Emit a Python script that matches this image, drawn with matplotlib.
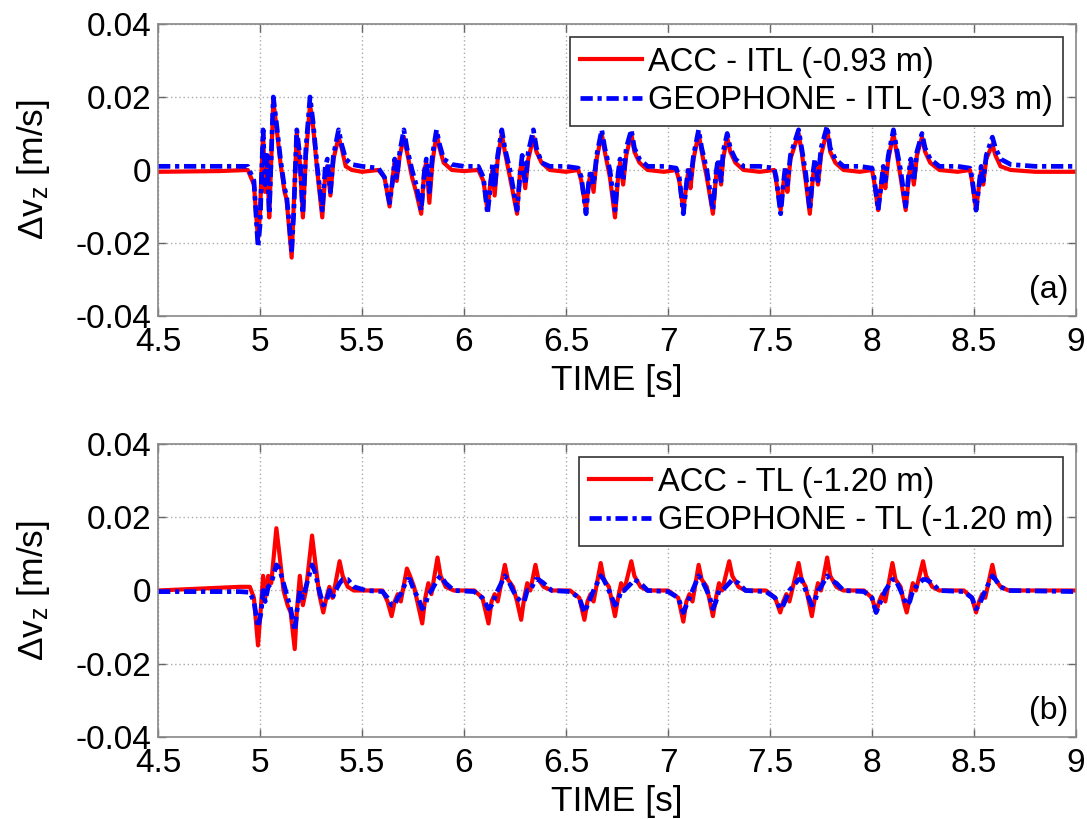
import matplotlib
matplotlib.use("Agg")
import matplotlib.pyplot as plt

plt.rcParams['font.family'] = ['Liberation Sans', 'DejaVu Sans']
plt.rcParams['mathtext.fontset'] = 'custom'
plt.rcParams['mathtext.rm'] = 'Liberation Sans'
plt.rcParams['mathtext.it'] = 'Liberation Sans'

# ---- panel (a): ITL, -0.93 m ----
t_a = [4.50, 4.80, 4.94, 4.97, 4.99, 5.00, 5.005, 5.015, 5.025, 5.035, 5.045, 5.065, 5.08,
       5.10, 5.12, 5.13, 5.155, 5.165, 5.18, 5.195, 5.21, 5.225, 5.245, 5.26, 5.28, 5.305,
       5.32, 5.33, 5.345, 5.36, 5.385, 5.40, 5.42, 5.45, 5.50, 5.58,
       5.61, 5.635, 5.65, 5.66, 5.67, 5.685, 5.705, 5.72, 5.745, 5.765, 5.79, 5.805, 5.815,
       5.83, 5.845, 5.865, 5.88, 5.90, 5.94, 6.00, 6.07,
       6.095, 6.115, 6.13, 6.14, 6.15, 6.165, 6.185, 6.20, 6.225, 6.26, 6.275, 6.285, 6.30,
       6.315, 6.34, 6.355, 6.38, 6.42, 6.50, 6.56,
       6.575, 6.598, 6.61, 6.62, 6.635, 6.65, 6.675, 6.69, 6.715, 6.74, 6.755, 6.765, 6.78,
       6.795, 6.82, 6.835, 6.86, 6.90, 6.98, 7.04,
       7.055, 7.075, 7.09, 7.10, 7.11, 7.125, 7.15, 7.165, 7.19, 7.22, 7.235, 7.245, 7.26,
       7.27, 7.29, 7.305, 7.33, 7.37, 7.45, 7.52,
       7.53, 7.552, 7.565, 7.575, 7.585, 7.60, 7.64, 7.655, 7.675, 7.695, 7.71, 7.72, 7.735,
       7.75, 7.78, 7.795, 7.82, 7.86, 7.94, 8.00,
       8.01, 8.03, 8.045, 8.055, 8.065, 8.08, 8.105, 8.12, 8.14, 8.165, 8.18, 8.19, 8.205,
       8.22, 8.245, 8.26, 8.285, 8.33, 8.42, 8.48,
       8.49, 8.51, 8.525, 8.535, 8.545, 8.56, 8.59, 8.605, 8.63, 8.68, 8.80, 9.00]
acc_a = [-0.0005, -0.0003, 0.0, -0.004, -0.019, -0.012, -0.004, 0.010, -0.006, 0.003, -0.013, 0.019, 0.012,
         0.002, -0.006, -0.008, -0.024, -0.010, 0.010, 0.002, -0.013, 0.004, 0.018, 0.012, 0.0, -0.013,
         -0.001, 0.001, -0.007, 0.003, 0.009, 0.006, 0.001, 0.0, -0.0005, 0.0,
         -0.002, -0.010, -0.002, 0.002, -0.003, 0.004, 0.009, 0.005, -0.002, -0.006, -0.012, 0.0, 0.002,
         -0.009, 0.002, 0.010, 0.006, 0.002, 0.0, -0.0003, 0.0,
         -0.003, -0.011, -0.003, 0.0, -0.007, 0.003, 0.010, 0.005, -0.002, -0.012, 0.0, 0.002, -0.005,
         0.003, 0.009, 0.005, 0.002, 0.0, -0.0005, 0.0,
         -0.003, -0.011, -0.004, -0.001, -0.006, 0.003, 0.010, 0.005, -0.002, -0.013, -0.002, 0.002, -0.004,
         0.004, 0.010, 0.005, 0.002, 0.0, -0.0005, 0.0,
         -0.003, -0.011, -0.004, 0.0, -0.005, 0.003, 0.010, 0.005, -0.002, -0.012, -0.002, 0.002, -0.004,
         0.003, 0.009, 0.005, 0.002, 0.0, -0.0005, 0.0,
         -0.003, -0.011, -0.004, 0.0, -0.006, 0.003, 0.010, 0.005, -0.003, -0.012, -0.002, 0.002, -0.004,
         0.004, 0.011, 0.005, 0.002, 0.0, -0.0005, 0.0,
         -0.003, -0.011, -0.004, 0.0, -0.005, 0.003, 0.010, 0.005, -0.002, -0.011, -0.002, 0.002, -0.004,
         0.004, 0.009, 0.005, 0.002, 0.0, -0.0005, 0.0,
         -0.003, -0.011, -0.004, 0.0, -0.004, 0.003, 0.007, 0.004, 0.001, 0.0, -0.0005, -0.0005]
geo_a = [0.001, 0.001, 0.001, -0.003, -0.021, -0.015, -0.006, 0.011, -0.004, 0.004, -0.012, 0.020, 0.013,
         0.003, -0.005, -0.007, -0.022, -0.012, 0.011, 0.004, -0.012, 0.006, 0.020, 0.013, 0.001, -0.011,
         0.001, 0.003, -0.006, 0.004, 0.011, 0.007, 0.003, 0.0015, 0.001, 0.0005,
         -0.002, -0.009, -0.003, 0.003, -0.002, 0.005, 0.011, 0.006, 0.0, -0.004, -0.011, -0.001, 0.003,
         -0.006, 0.004, 0.011, 0.007, 0.003, 0.0015, 0.001, 0.001,
         -0.002, -0.012, -0.004, 0.002, -0.005, 0.004, 0.011, 0.006, 0.0, -0.011, -0.001, 0.004, -0.004,
         0.005, 0.011, 0.006, 0.002, 0.001, 0.001, 0.0005,
         -0.002, -0.012, -0.004, 0.0, -0.004, 0.004, 0.011, 0.006, 0.0, -0.011, -0.001, 0.003, -0.003,
         0.006, 0.011, 0.006, 0.003, 0.001, 0.001, 0.0005,
         -0.002, -0.012, -0.004, 0.001, -0.003, 0.004, 0.011, 0.006, 0.0, -0.011, -0.001, 0.003, -0.003,
         0.005, 0.010, 0.006, 0.003, 0.001, 0.001, 0.0005,
         -0.002, -0.012, -0.004, 0.001, -0.004, 0.004, 0.011, 0.006, -0.001, -0.011, -0.001, 0.003, -0.003,
         0.006, 0.012, 0.006, 0.003, 0.001, 0.001, 0.0005,
         -0.002, -0.011, -0.004, 0.001, -0.003, 0.004, 0.011, 0.006, 0.0, -0.010, -0.001, 0.003, -0.003,
         0.005, 0.010, 0.006, 0.003, 0.001, 0.001, 0.0005,
         -0.002, -0.011, -0.004, 0.001, -0.003, 0.004, 0.009, 0.006, 0.003, 0.0015, 0.001, 0.001]

# ---- panel (b): TL, -1.20 m ----
t_b = [4.50, 4.70, 4.90, 4.95, 4.97, 4.99, 5.005, 5.015, 5.025, 5.04, 5.055, 5.08, 5.095,
       5.115, 5.135, 5.15, 5.17, 5.18, 5.195, 5.21, 5.225, 5.255, 5.27, 5.29, 5.31, 5.325,
       5.34, 5.355, 5.37, 5.39, 5.405, 5.43, 5.46, 5.52, 5.60,
       5.625, 5.645, 5.66, 5.675, 5.69, 5.72, 5.735, 5.755, 5.775, 5.795, 5.81, 5.825, 5.84,
       5.87, 5.885, 5.91, 5.95, 6.05,
       6.09, 6.12, 6.135, 6.15, 6.165, 6.20, 6.215, 6.24, 6.26, 6.28, 6.295, 6.31, 6.325,
       6.35, 6.365, 6.39, 6.43, 6.52,
       6.565, 6.59, 6.605, 6.62, 6.635, 6.67, 6.685, 6.71, 6.725, 6.74, 6.755, 6.77, 6.785,
       6.82, 6.835, 6.865, 6.90, 7.00,
       7.05, 7.075, 7.09, 7.105, 7.12, 7.15, 7.165, 7.19, 7.205, 7.22, 7.235, 7.25, 7.265,
       7.30, 7.315, 7.345, 7.38, 7.48,
       7.525, 7.55, 7.565, 7.58, 7.595, 7.64, 7.655, 7.675, 7.69, 7.705, 7.72, 7.735, 7.75,
       7.78, 7.795, 7.825, 7.86, 7.96,
       8.00, 8.02, 8.035, 8.05, 8.065, 8.10, 8.115, 8.14, 8.155, 8.17, 8.185, 8.20, 8.215,
       8.25, 8.265, 8.295, 8.33, 8.45,
       8.49, 8.51, 8.525, 8.54, 8.555, 8.59, 8.605, 8.63, 8.67, 9.00]
acc_b = [0.0, 0.0005, 0.001, 0.001, -0.002, -0.015, -0.004, 0.004, -0.002, 0.004, 0.002, 0.017, 0.010,
         0.0, -0.004, -0.006, -0.016, -0.006, 0.004, -0.004, 0.0, 0.015, 0.008, -0.001, -0.006, -0.002,
         0.001, -0.002, 0.002, 0.008, 0.004, 0.001, 0.0, 0.0, 0.0,
         -0.003, -0.007, -0.003, -0.001, -0.003, 0.006, 0.004, 0.001, -0.004, -0.009, -0.002, 0.002, -0.001,
         0.009, 0.004, 0.001, 0.0, 0.0,
         -0.002, -0.009, -0.003, -0.001, -0.003, 0.007, 0.003, 0.001, -0.003, -0.008, -0.002, 0.002, 0.0,
         0.007, 0.003, 0.001, 0.0, 0.0,
         -0.002, -0.008, -0.003, -0.001, -0.003, 0.0075, 0.003, 0.001, -0.003, -0.007, -0.002, 0.002, 0.0,
         0.008, 0.004, 0.001, 0.0, 0.0,
         -0.002, -0.0085, -0.003, -0.001, -0.003, 0.007, 0.003, 0.001, -0.003, -0.007, -0.002, 0.002, 0.0,
         0.008, 0.004, 0.001, 0.0, 0.0,
         -0.002, -0.006, -0.003, -0.001, -0.003, 0.0075, 0.003, 0.001, -0.003, -0.007, -0.002, 0.002, 0.0,
         0.009, 0.004, 0.001, 0.0, 0.0,
         -0.002, -0.006, -0.003, -0.001, -0.003, 0.0075, 0.003, 0.001, -0.003, -0.006, -0.002, 0.002, 0.0,
         0.008, 0.004, 0.001, 0.0, 0.0,
         -0.002, -0.006, -0.003, -0.001, -0.002, 0.007, 0.003, 0.001, 0.0, 0.0]
geo_b = [-0.0003, -0.0003, -0.0003, -0.0005, -0.003, -0.010, -0.006, 0.0, -0.003, 0.001, 0.002, 0.007, 0.006,
         0.002, -0.002, -0.005, -0.011, -0.006, 0.0, -0.002, 0.001, 0.007, 0.005, 0.0, -0.004, -0.003,
         0.0, -0.002, 0.0, 0.002, 0.003, 0.003, 0.001, 0.0, -0.0003,
         -0.002, -0.004, -0.004, -0.002, -0.001, 0.003, 0.003, 0.0, -0.002, -0.005, -0.004, -0.001, 0.0,
         0.003, 0.004, 0.002, 0.0, -0.0003,
         -0.002, -0.005, -0.004, -0.002, 0.0, 0.004, 0.003, 0.0, -0.002, -0.003, -0.003, 0.0, 0.0,
         0.003, 0.003, 0.002, 0.0, -0.0003,
         -0.002, -0.006, -0.004, -0.002, 0.0, 0.004, 0.003, 0.0, -0.002, -0.004, -0.003, 0.0, 0.0,
         0.002, 0.003, 0.002, 0.0, -0.0003,
         -0.002, -0.006, -0.004, -0.002, 0.0, 0.004, 0.003, 0.0, -0.002, -0.005, -0.003, 0.0, 0.0,
         0.002, 0.003, 0.002, 0.0, -0.0003,
         -0.002, -0.005, -0.004, -0.002, 0.0, 0.003, 0.003, 0.0, -0.002, -0.004, -0.003, 0.0, 0.001,
         0.004, 0.003, 0.002, 0.0, -0.0003,
         -0.002, -0.006, -0.004, -0.002, 0.0, 0.003, 0.003, 0.0, -0.002, -0.004, -0.003, 0.0, 0.001,
         0.003, 0.003, 0.002, 0.0, -0.0003,
         -0.002, -0.005, -0.004, -0.002, 0.0, 0.004, 0.003, 0.001, 0.0, -0.0003]

x_ticks = [4.5, 5, 5.5, 6, 6.5, 7, 7.5, 8, 8.5, 9]
x_labels = ['4.5', '5', '5.5', '6', '6.5', '7', '7.5', '8', '8.5', '9']
y_ticks = [-0.04, -0.02, 0, 0.02, 0.04]
y_labels = ['-0.04', '-0.02', '0', '0.02', '0.04']

panels = [
    (t_a, acc_a, geo_a, 'ACC - ITL (-0.93 m)', 'GEOPHONE - ITL (-0.93 m)', '(a)'),
    (t_b, acc_b, geo_b, 'ACC - TL (-1.20 m)', 'GEOPHONE - TL (-1.20 m)', '(b)'),
]
boxes = [[0.1454, 0.6142, 0.8445, 0.3565], [0.1454, 0.1001, 0.8445, 0.3578]]

fig = plt.figure(figsize=(10.87, 8.19), dpi=100)

for box, (t, acc, geo, lab_acc, lab_geo, tag) in zip(boxes, panels):
    ax = fig.add_axes(box)
    ax.plot(t, acc, color='#ff0000', lw=3.0, label=lab_acc)
    ax.plot(t, geo, color='#0000ff', lw=3.4, dashes=(2.6, 1.0, 0.9, 1.0), label=lab_geo)

    ax.set_xlim(4.5, 9)
    ax.set_ylim(-0.04, 0.04)
    ax.set_xticks(x_ticks)
    ax.set_xticklabels(x_labels)
    ax.set_yticks(y_ticks)
    ax.set_yticklabels(y_labels)
    ax.tick_params(direction='in', length=6, width=1, color='#666666',
                   top=True, right=True, labelsize=24, pad=5)
    ax.tick_params(axis='x', pad=8)
    for s in ax.spines.values():
        s.set_color('#888888')
        s.set_linewidth(1.2)
    ax.grid(True, color='#aaaaaa', linestyle=(0, (1, 2)), linewidth=1)

    ax.set_xlabel('TIME [s]', fontsize=25.5)
    ax.xaxis.set_label_coords(0.5, -0.165)
    ax.set_ylabel(r'$\Delta\mathrm{v}_\mathrm{z}$ [m/s]', fontsize=25.5)
    ax.yaxis.set_label_coords(-0.115, 0.5)

    leg = ax.legend(loc='upper right', fontsize=23.5, fancybox=False, framealpha=1,
                    edgecolor='#333333', borderaxespad=0.4, handlelength=1.9,
                    handletextpad=0.2, labelspacing=0.22, borderpad=0.3)
    leg.get_frame().set_linewidth(1.2)

    ax.text(0.992, 0.089, tag, transform=ax.transAxes, ha='right', va='center', fontsize=23)

fig.savefig('out.png', dpi=100)
